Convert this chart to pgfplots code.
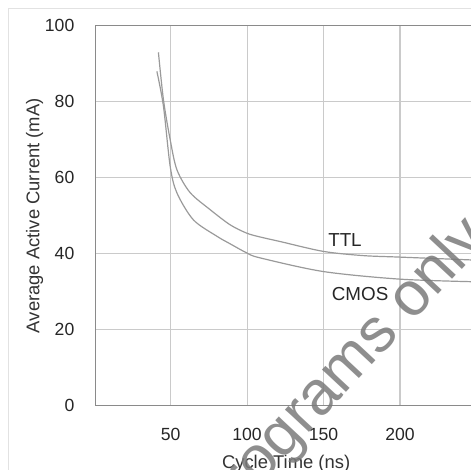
\documentclass[border=0pt]{standalone}
\usepackage{pgfplots}
\pgfplotsset{compat=1.18}
\usepackage{fontspec}
\setmainfont{Liberation Sans}

\definecolor{framec}{HTML}{E2E2E2}
\definecolor{axisc}{HTML}{8A8A8A}
\definecolor{gridc}{HTML}{CACACA}
\definecolor{curvec}{HTML}{9A9A9A}
\definecolor{markc}{HTML}{7A7A7A}

\begin{document}
\begin{tikzpicture}
  % outer frame (only left and top edges fall inside the page)
  \draw[framec, line width=0.75pt] (4.15pt,-20pt) |- (260pt,230.85pt);

  \begin{axis}[
      at={(47.85pt,32.15pt)}, anchor=origin,
      scale only axis,
      width=190.4pt, height=190pt,
      xmin=1, xmax=250,
      ymin=0, ymax=100,
      xtick={50,100,150,200},
      ytick={0,20,...,100},
      major tick length=0pt,
      grid=major,
      major grid style={gridc, line width=0.6pt},
      axis line style={axisc, line width=0.7pt},
      tick label style={font=\fontsize{8.8}{10}\selectfont, text=black!85},
      yticklabel style={inner sep=0pt, anchor=east, xshift=-10.5pt},
      xticklabel style={inner sep=0pt, anchor=north, yshift=-11pt},
      /pgf/number format/assume math mode=true,
      label style={font=\fontsize{9.2}{11}\selectfont, text=black!80},
      xlabel={Cycle Time (ns)},
      ylabel={Average Active Current (mA)},
      xlabel style={at={(axis description cs:0.5,-0.1653)}, anchor=base, inner sep=0pt},
      ylabel style={at={(axis description cs:-0.1478,0.5)}, anchor=base, inner sep=0pt},
      clip=true,
    ]

    % TTL
    \addplot[curvec, line width=0.6pt, smooth, tension=0.5] coordinates {
      (42,93) (45.3,80.5) (49.7,70) (54.1,62.1) (62.7,56.1) (75.8,51.6)
      (88.9,47.6) (99.8,45.4) (108.5,44.4) (121.6,43.2) (149.9,40.6)
      (175.8,39.5) (200,39.1) (250,38.3)
    };
    % CMOS
    \addplot[curvec, line width=0.6pt, smooth, tension=0.5] coordinates {
      (41,88) (45.3,78.8) (49.7,63) (54.1,56) (64.9,48.9) (80.2,44.6)
      (88.9,42.6) (99.8,40.2) (108.5,38.9) (149.9,35.3) (200,33.3) (250,32.6)
    };

    \node[font=\fontsize{9.4}{11}\selectfont, text=black!85] at (axis cs:164,43.6) {TTL};
    \node[font=\fontsize{9.4}{11}\selectfont, text=black!85] at (axis cs:173.9,29.3) {CMOS};
  \end{axis}

  % watermark
  \node[rotate=47, text=markc, font=\fontsize{31}{31}\selectfont, opacity=0.85]
    at (172pt,49pt) {programs only};

  \pgfresetboundingbox
  \useasboundingbox (0,0) rectangle (235.5pt,235pt);
\end{tikzpicture}
\end{document}
